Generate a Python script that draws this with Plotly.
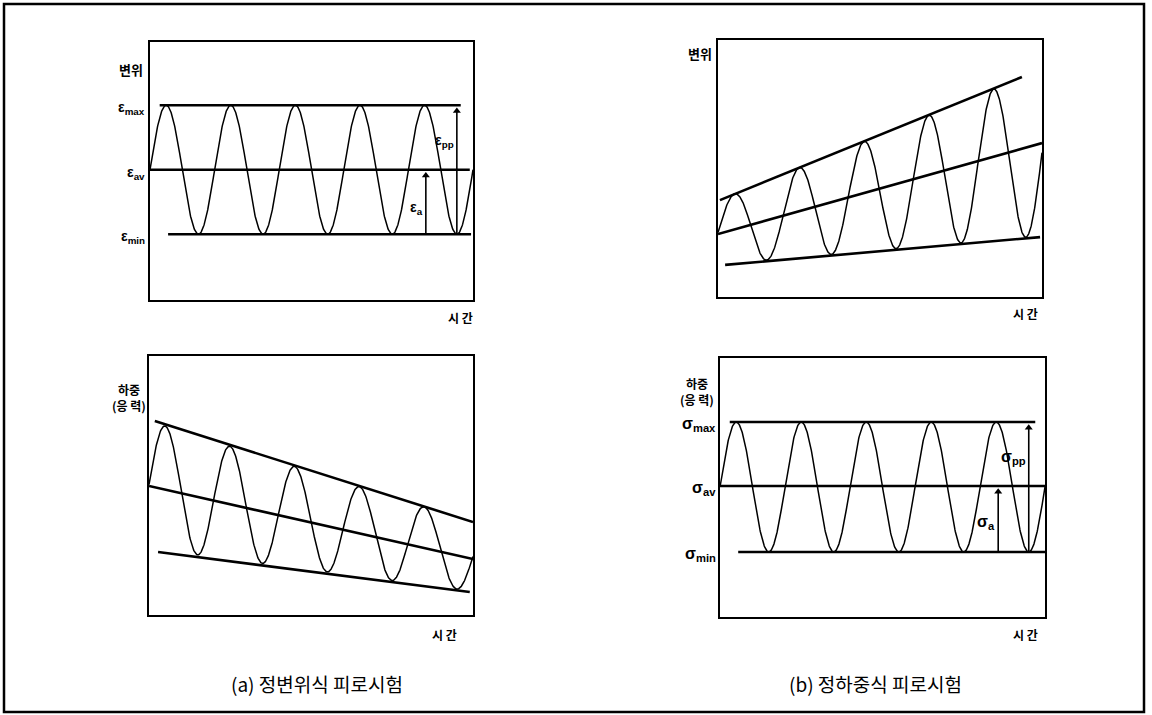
import numpy as np
import plotly.graph_objects as go

W, H = 1152, 715

# ---------------- data (time in load cycles, values in arbitrary units 0..10) ----------------
T_RANGE = [0, 5]
V_RANGE = [0, 10]
N_CYCLES = 5

# (a) 정변위식 – 변위 (displacement constant)
A1_ENV_UP = [7.55, 7.55]          # peak envelope at t=0, t=5
A1_ENV_LO = [2.55, 2.55]          # trough envelope at t=0, t=5
A1_LINE_T = [[0.15, 4.81], [0.0, 4.95], [0.28, 4.97]]
A1_LINE_V = [[7.55, 7.55], [5.05, 5.05], [2.55, 2.55]]
A1_LABELS = ["ε<sub>max</sub>", "ε<sub>av</sub>", "ε<sub>min</sub>"]

# (a) 정변위식 – 하중(응력) (load decays)
A2_ENV_UP = [7.49, 3.59]
A2_ENV_LO = [2.57, 0.92]
A2_LINE_T = [[0.09, 5.0], [0.0, 5.0], [0.14, 4.95]]
A2_LINE_V = [[7.49, 3.59], [4.98, 2.16], [2.43, 0.89]]

# (b) 정하중식 – 변위 (displacement grows)
B1_ENV_UP = [3.755, 8.855]
B1_ENV_LO = [1.27, 2.38]
B1_LINE_T = [[0.03, 4.69], [0.0, 5.0], [0.11, 4.97]]
B1_LINE_V = [[3.77, 8.56], [2.45, 5.99], [1.25, 2.33]]

# (b) 정하중식 – 하중(응력) (load constant)
B2_ENV_UP = [7.53, 7.53]
B2_ENV_LO = [2.51, 2.51]
B2_LINE_T = [[0.15, 4.85], [0.0, 5.0], [0.28, 5.0]]
B2_LINE_V = [[7.53, 7.53], [5.06, 5.06], [2.51, 2.51]]
B2_LABELS = ["σ<sub>max</sub>", "σ<sub>av</sub>", "σ<sub>min</sub>"]

# amplitude arrows: (t, tail value, head value, label)
A1_ARROWS = [(4.75, 2.55, 7.55, "ε<sub>pp</sub>"), (4.27, 2.55, 5.05, "ε<sub>a</sub>")]
B2_ARROWS = [(4.75, 2.51, 7.53, "σ<sub>pp</sub>"), (4.28, 2.51, 5.06, "σ<sub>a</sub>")]

Y_TITLE_DISP = "변위"
Y_TITLE_LOAD = "하중<br>(응 력)"
X_TITLE = "시 간"
CAPTIONS = ["(a) 정변위식 피로시험", "(b) 정하중식 피로시험"]

# ---------------- layout helpers ----------------
def fx(px):
    return px / W

def fy(py):
    return 1 - py / H

KR = "Noto Sans CJK KR"
GR = "Liberation Sans"

fig = go.Figure()
layout = dict(
    width=W, height=H, autosize=False,
    margin=dict(l=0, r=0, t=0, b=0),
    paper_bgcolor="white", plot_bgcolor="white",
    showlegend=False,
)
annotations = []
shapes = []

# pixel boxes of the four plotting panels: (left, top, right, bottom)
BOXES = {
    1: (150, 42, 473, 300),
    2: (718, 40, 1042, 297),
    3: (149, 356, 473, 615),
    4: (720, 358, 1045, 617),
}

PANELS = {
    1: (A1_ENV_UP, A1_ENV_LO, A1_LINE_T, A1_LINE_V),
    2: (B1_ENV_UP, B1_ENV_LO, B1_LINE_T, B1_LINE_V),
    3: (A2_ENV_UP, A2_ENV_LO, A2_LINE_T, A2_LINE_V),
    4: (B2_ENV_UP, B2_ENV_LO, B2_LINE_T, B2_LINE_V),
}

t = np.linspace(T_RANGE[0], T_RANGE[1], 1001)


def axes_of(i):
    return ("x" if i == 1 else f"x{i}"), ("y" if i == 1 else f"y{i}")


for i, (env_up, env_lo, line_t, line_v) in PANELS.items():
    xa, ya = axes_of(i)
    xkey = "xaxis" if i == 1 else f"xaxis{i}"
    ykey = "yaxis" if i == 1 else f"yaxis{i}"
    l, tp, r, b = BOXES[i]
    axis_common = dict(showgrid=False, zeroline=False, showticklabels=False, ticks="",
                       showline=True, mirror=True, linecolor="black", linewidth=1.6,
                       fixedrange=True)
    layout[xkey] = dict(domain=[fx(l), fx(r)], range=T_RANGE, anchor=ya, **axis_common)
    layout[ykey] = dict(domain=[fy(b), fy(tp)], range=V_RANGE, anchor=xa, **axis_common)

    up = np.interp(t, T_RANGE, env_up)
    lo = np.interp(t, T_RANGE, env_lo)
    mean = (up + lo) / 2
    amp = (up - lo) / 2
    y = mean + amp * np.sin(2 * np.pi * N_CYCLES * t / (T_RANGE[1] - T_RANGE[0]))
    fig.add_trace(go.Scatter(x=t, y=y, mode="lines", xaxis=xa, yaxis=ya,
                             line=dict(color="black", width=1.5), hoverinfo="skip"))
    for lt, lv in zip(line_t, line_v):
        fig.add_trace(go.Scatter(x=lt, y=lv, mode="lines", xaxis=xa, yaxis=ya,
                                 line=dict(color="black", width=2.6), hoverinfo="skip"))

# value labels left of the boxes
for i, labels, values, right_px, fsize in [
    (1, A1_LABELS, [v[0] for v in A1_LINE_V], 147, 14),
    (4, B2_LABELS, [v[0] for v in B2_LINE_V], 718, 16),
]:
    xa, ya = axes_of(i)
    for lab, val in zip(labels, values):
        annotations.append(dict(x=fx(right_px), xref="paper", y=val, yref=ya,
                                text=f"<b>{lab}</b>", showarrow=False,
                                xanchor="right", yanchor="middle", yshift=-3,
                                font=dict(family=GR, size=fsize, color="black")))

# amplitude arrows (line + triangular head) with labels
LABEL_POS = {1: [6.15, 3.55], 4: [6.15, 3.65]}
for i, arrows, fsize in [(1, A1_ARROWS, 14), (4, B2_ARROWS, 16)]:
    xa, ya = axes_of(i)
    for k, (at, tail, head, lab) in enumerate(arrows):
        fig.add_trace(go.Scatter(x=[at, at], y=[tail, head - 0.2], mode="lines",
                                 xaxis=xa, yaxis=ya, hoverinfo="skip",
                                 line=dict(color="black", width=1.6)))
        fig.add_trace(go.Scatter(x=[at], y=[head - 0.22], mode="markers",
                                 xaxis=xa, yaxis=ya, hoverinfo="skip",
                                 marker=dict(symbol="triangle-up", size=7, color="black",
                                             line=dict(width=0))))
        annotations.append(dict(x=at, xref=xa, y=LABEL_POS[i][k], yref=ya,
                                text=f"<b>{lab}</b>", showarrow=False,
                                xanchor="right", yanchor="middle", xshift=-1,
                                font=dict(family=GR, size=fsize, color="black")))


# axis titles
def kr_text(text, xpx, ypx, xanchor, size=12, align="center"):
    annotations.append(dict(x=fx(xpx), y=fy(ypx), xref="paper", yref="paper",
                            text=f"<b>{text}</b>", showarrow=False, xanchor=xanchor,
                            yanchor="middle", align=align,
                            font=dict(family=KR, size=size, color="black")))


kr_text(Y_TITLE_DISP, 145, 69, "right", 13)
kr_text(Y_TITLE_DISP, 714, 53, "right", 13)
kr_text(Y_TITLE_LOAD, 148, 397, "right", 12)
kr_text(Y_TITLE_LOAD, 716, 391, "right", 12)
kr_text(X_TITLE, 460, 317, "center", 12)
kr_text(X_TITLE, 444, 634, "center", 12)
kr_text(X_TITLE, 1025, 313, "center", 12)
kr_text(X_TITLE, 1025, 634, "center", 12)

for cap, cx in zip(CAPTIONS, [317, 875]):
    annotations.append(dict(x=fx(cx), y=fy(683), xref="paper", yref="paper",
                            text=cap, showarrow=False, xanchor="center", yanchor="middle",
                            font=dict(family=KR, size=19, color="black")))

# outer frame
shapes.append(dict(type="rect", xref="paper", yref="paper",
                   x0=fx(4), x1=fx(1144), y0=fy(712), y1=fy(4),
                   line=dict(color="black", width=2.5)))

layout["annotations"] = annotations
layout["shapes"] = shapes
fig.update_layout(**layout)
fig.write_html("out.html",
               config={"displayModeBar": False, "staticPlot": True},
               post_script="document.body.style.margin='0px';document.body.style.overflow='hidden';")
